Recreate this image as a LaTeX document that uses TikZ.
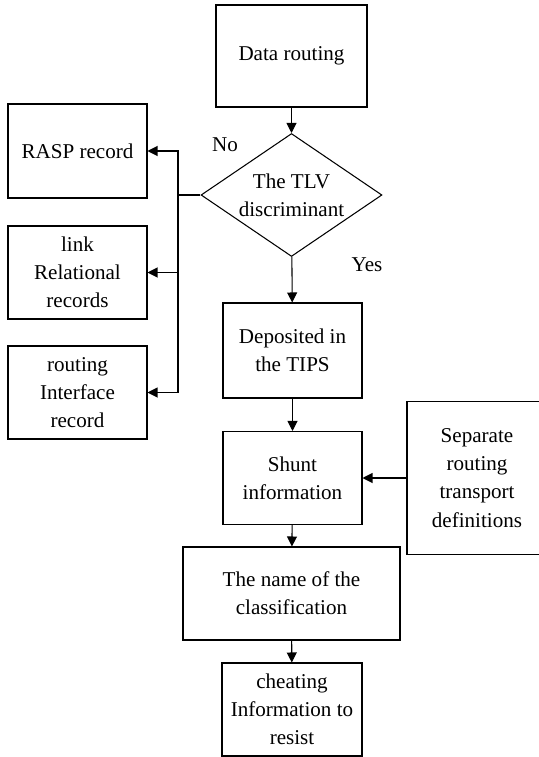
\documentclass[tikz,border=0pt]{standalone}
\usepackage{fontspec}
\setmainfont{Liberation Serif}
\usetikzlibrary{shapes.geometric,arrows.meta}

\tikzset{
  box/.style={draw, line width=0.6pt, inner sep=0pt, align=center,
    font=\fontsize{12}{16}\selectfont},
  flow/.style={line width=0.6pt, -{Triangle[length=0.2cm,width=0.2cm]}},
  link/.style={line width=0.6pt}
}

\begin{document}
\begin{tikzpicture}[x=0.02cm,y=-0.02cm]
\useasboundingbox (0,0) rectangle (538,757);

\node[box, minimum width=3.02cm, minimum height=2.04cm] (route) at (291.5,56) {Data routing};
\node[box, diamond, aspect=1.47, minimum width=3.62cm, minimum height=2.46cm] (tlv) at (291.5,195) {The TLV\\discriminant};
\node[font=\fontsize{12}{16}\selectfont] (no) at (225,145) {No};
\node[font=\fontsize{12}{16}\selectfont] (yes) at (367,265) {Yes};

\node[box, minimum width=2.78cm, minimum height=1.9cm] (tips) at (292.5,350.5) {Deposited in\\the TIPS};
\node[box, minimum width=2.78cm, minimum height=1.86cm] (shunt) at (292.5,478) {Shunt\\information};
% runs off the right edge
\node[box, minimum width=2.8cm, minimum height=3.06cm] (sep) at (477,478) {Separate\\routing\\transport\\definitions};
\node[box, minimum width=4.34cm, minimum height=1.86cm] (name) at (291.5,593.5) {The name of the\\classification};
\node[box, minimum width=2.8cm, minimum height=1.86cm] (cheat) at (292,709.5) {cheating\\Information to\\resist};

% records on the left
\node[box, minimum width=2.78cm, minimum height=1.88cm] (rasp) at (77.5,151) {RASP record};
\node[box, minimum width=2.78cm, minimum height=1.86cm] (rel) at (77.5,272.5) {link\\Relational\\records};
\node[box, minimum width=2.78cm, minimum height=1.86cm] (iface) at (77.5,392.5) {routing\\Interface\\record};
\coordinate (bus) at (178,195);

\draw[flow] (route) -- (tlv);
\draw[flow] (tlv) -- (tips);
\draw[flow] (tips) -- (shunt);
\draw[flow] (shunt) -- (name);
\draw[flow] (name) -- (cheat);
\draw[flow] (sep) -- (shunt);

\draw[link] (tlv.west) -- (bus);
\draw[flow] (bus) |- (rasp.east);
\draw[flow] (bus) |- (rel.east);
\draw[flow] (bus) |- (iface.east);
\end{tikzpicture}
\end{document}
